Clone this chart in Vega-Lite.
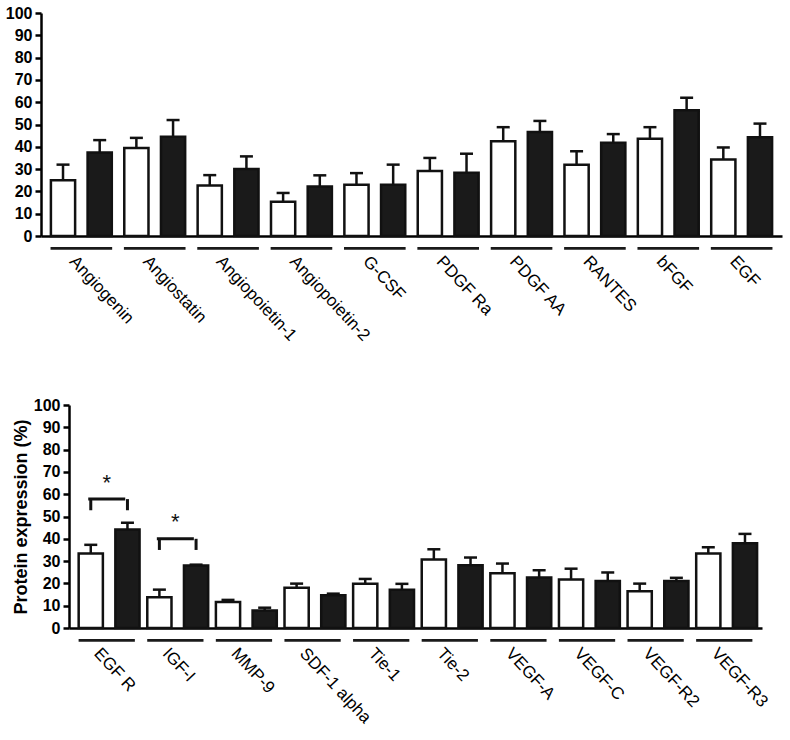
{
  "$schema": "https://vega.github.io/schema/vega-lite/v6.json",
  "background": "white",
  "padding": {"left": 5, "top": 5, "right": 5, "bottom": 5},
  "config": {
    "view": {"stroke": null},
    "font": "Liberation Sans",
    "axis": {
      "labelFont": "Liberation Sans",
      "titleFont": "Liberation Sans",
      "labelColor": "black",
      "titleColor": "black",
      "domainColor": "black",
      "tickColor": "black",
      "grid": false,
      "labelOverlap": false
    }
  },
  "datasets": {
    "top": [
      {"group": "Angiogenin", "series": "A", "value": 25, "upper": 32},
      {"group": "Angiogenin", "series": "B", "value": 37.5, "upper": 43},
      {"group": "Angiostatin", "series": "A", "value": 39.5, "upper": 44},
      {"group": "Angiostatin", "series": "B", "value": 44.5, "upper": 52},
      {"group": "Angiopoietin-1", "series": "A", "value": 22.7, "upper": 27.3},
      {"group": "Angiopoietin-1", "series": "B", "value": 30, "upper": 35.7},
      {"group": "Angiopoietin-2", "series": "A", "value": 15.4, "upper": 19.3},
      {"group": "Angiopoietin-2", "series": "B", "value": 22.2, "upper": 27.2},
      {"group": "G-CSF", "series": "A", "value": 23, "upper": 28.2},
      {"group": "G-CSF", "series": "B", "value": 23, "upper": 32},
      {"group": "PDGF Ra", "series": "A", "value": 29.1, "upper": 35},
      {"group": "PDGF Ra", "series": "B", "value": 28.4, "upper": 36.9},
      {"group": "PDGF AA", "series": "A", "value": 42.5, "upper": 48.8},
      {"group": "PDGF AA", "series": "B", "value": 46.6, "upper": 51.6},
      {"group": "RANTES", "series": "A", "value": 32, "upper": 38},
      {"group": "RANTES", "series": "B", "value": 41.8, "upper": 45.7},
      {"group": "bFGF", "series": "A", "value": 43.6, "upper": 48.8},
      {"group": "bFGF", "series": "B", "value": 56.4, "upper": 62},
      {"group": "EGF", "series": "A", "value": 34.3, "upper": 39.7},
      {"group": "EGF", "series": "B", "value": 44.3, "upper": 50.4}
    ],
    "bottom": [
      {"group": "EGF R", "series": "A", "value": 33.4, "upper": 37.3},
      {"group": "EGF R", "series": "B", "value": 44.2, "upper": 47.2},
      {"group": "IGF-I", "series": "A", "value": 13.8, "upper": 17.2},
      {"group": "IGF-I", "series": "B", "value": 28, "upper": 28.4},
      {"group": "MMP-9", "series": "A", "value": 11.7, "upper": 12.6},
      {"group": "MMP-9", "series": "B", "value": 7.9, "upper": 9.1},
      {"group": "SDF-1 alpha", "series": "A", "value": 18, "upper": 19.9},
      {"group": "SDF-1 alpha", "series": "B", "value": 14.7, "upper": 15.4},
      {"group": "Tie-1", "series": "A", "value": 19.8, "upper": 22},
      {"group": "Tie-1", "series": "B", "value": 17.2, "upper": 19.8},
      {"group": "Tie-2", "series": "A", "value": 30.7, "upper": 35.3},
      {"group": "Tie-2", "series": "B", "value": 28.1, "upper": 31.6},
      {"group": "VEGF-A", "series": "A", "value": 24.6, "upper": 28.9},
      {"group": "VEGF-A", "series": "B", "value": 22.6, "upper": 25.9},
      {"group": "VEGF-C", "series": "A", "value": 21.7, "upper": 26.6},
      {"group": "VEGF-C", "series": "B", "value": 21.1, "upper": 24.9},
      {"group": "VEGF-R2", "series": "A", "value": 16.5, "upper": 19.9},
      {"group": "VEGF-R2", "series": "B", "value": 21.1, "upper": 22.5},
      {"group": "VEGF-R3", "series": "A", "value": 33.4, "upper": 36.2},
      {"group": "VEGF-R3", "series": "B", "value": 38, "upper": 42.2}
    ],
    "brackets": [
      {"group": "EGF R", "series": "A", "low": 52.8, "high": 57.8, "star": 67},
      {"group": "EGF R", "series": "B", "low": 52.8, "high": 57.8, "star": 67},
      {"group": "IGF-I", "series": "A", "low": 35, "high": 40, "star": 49.5},
      {"group": "IGF-I", "series": "B", "low": 35, "high": 40, "star": 49.5}
    ]
  },
  "vconcat": [
    {
      "width": 741,
      "height": 223,
      "data": {"name": "top"},
      "encoding": {
        "x": {
          "field": "group", "type": "nominal", "sort": null,
          "scale": {"paddingInner": 0, "paddingOuter": 0.05},
          "axis": {
            "title": null, "labelAngle": 47, "labelAlign": "left", "labelBaseline": "top",
            "labelFontSize": 17, "labelPadding": 17, "labelOffset": -3, "ticks": false,
            "domainWidth": 2.5, "labelLimit": 300
          }
        },
        "y": {
          "type": "quantitative",
          "scale": {"domain": [0, 100], "nice": false},
          "axis": {
            "title": null, "values": [0, 10, 20, 30, 40, 50, 60, 70, 80, 90, 100],
            "labelFontSize": 16, "labelFontWeight": "bold", "labelPadding": 3,
            "tickSize": 6, "tickWidth": 2.5, "domainWidth": 2.5
          }
        }
      },
      "layer": [
        {
          "transform": [{"filter": "datum.series === 'A'"}],
          "mark": {"type": "bar", "color": "#1a1a1a", "width": {"band": 0.84}},
          "encoding": {"y": {"datum": -4.9}, "y2": {"datum": -6.2}}
        },
        {
          "mark": {"type": "bar", "stroke": "#111", "strokeWidth": 2.5},
          "encoding": {
            "xOffset": {"field": "series", "type": "nominal", "scale": {"paddingInner": 0.34, "paddingOuter": 0.17}},
            "y": {"field": "value", "type": "quantitative"},
            "color": {"field": "series", "type": "nominal", "scale": {"domain": ["A", "B"], "range": ["white", "#1a1a1a"]}, "legend": null}
          }
        },
        {
          "mark": {"type": "rule", "color": "#111", "strokeWidth": 2.5},
          "encoding": {
            "xOffset": {"field": "series", "type": "nominal", "scale": {"paddingInner": 0.34, "paddingOuter": 0.17}},
            "y": {"field": "value", "type": "quantitative"},
            "y2": {"field": "upper"}
          }
        },
        {
          "mark": {"type": "tick", "color": "#111", "opacity": 1, "orient": "horizontal", "size": 13, "thickness": 2.5},
          "encoding": {
            "xOffset": {"field": "series", "type": "nominal", "scale": {"paddingInner": 0.34, "paddingOuter": 0.17}},
            "y": {"field": "upper", "type": "quantitative"}
          }
        }
      ]
    },
    {
      "width": 721,
      "height": 223,
      "layer": [
        {
          "data": {"name": "bottom"},
          "transform": [{"filter": "datum.series === 'A'"}],
          "mark": {"type": "bar", "color": "#1a1a1a", "width": {"band": 0.82}},
          "encoding": {
            "y": {"datum": -4.9}, "y2": {"datum": -6.2}
          }
        },
        {
          "data": {"name": "bottom"},
          "mark": {"type": "bar", "stroke": "#111", "strokeWidth": 2.5},
          "encoding": {
            "xOffset": {"field": "series", "type": "nominal", "scale": {"paddingInner": 0.34, "paddingOuter": 0.17}},
            "y": {"field": "value", "type": "quantitative"},
            "color": {"field": "series", "type": "nominal", "scale": {"domain": ["A", "B"], "range": ["white", "#1a1a1a"]}, "legend": null}
          }
        },
        {
          "data": {"name": "bottom"},
          "mark": {"type": "rule", "color": "#111", "strokeWidth": 2.5},
          "encoding": {
            "xOffset": {"field": "series", "type": "nominal", "scale": {"paddingInner": 0.34, "paddingOuter": 0.17}},
            "y": {"field": "value", "type": "quantitative"},
            "y2": {"field": "upper"}
          }
        },
        {
          "data": {"name": "bottom"},
          "mark": {"type": "tick", "color": "#111", "opacity": 1, "orient": "horizontal", "size": 13, "thickness": 2.5},
          "encoding": {
            "xOffset": {"field": "series", "type": "nominal", "scale": {"paddingInner": 0.34, "paddingOuter": 0.17}},
            "y": {"field": "upper", "type": "quantitative"}
          }
        },
        {
          "data": {"name": "brackets"},
          "mark": {"type": "rule", "color": "#111", "strokeWidth": 3},
          "encoding": {
            "xOffset": {"field": "series", "type": "nominal", "scale": {"paddingInner": 0.34, "paddingOuter": 0.17}},
            "y": {"field": "low", "type": "quantitative"},
            "y2": {"field": "high"}
          }
        },
        {
          "data": {"name": "brackets"},
          "transform": [{"filter": "datum.series === 'A'"}],
          "mark": {"type": "tick", "color": "#111", "opacity": 1, "orient": "horizontal", "size": 37, "thickness": 3},
          "encoding": {
            "y": {"field": "high", "type": "quantitative"}
          }
        },
        {
          "data": {"name": "brackets"},
          "transform": [{"filter": "datum.series === 'A'"}],
          "mark": {"type": "text", "text": "*", "fontSize": 22, "font": "Liberation Sans", "color": "#111", "baseline": "middle", "dy": 4},
          "encoding": {
            "y": {"field": "star", "type": "quantitative"}
          }
        }
      ],
      "encoding": {
        "x": {
          "field": "group", "type": "nominal", "sort": null,
          "scale": {"range": [28, 721], "paddingInner": 0, "paddingOuter": 0.05},
          "axis": {
            "title": null, "labelAngle": 47, "labelAlign": "left", "labelBaseline": "top",
            "labelFontSize": 17, "labelPadding": 17, "labelOffset": -4, "ticks": false,
            "domainWidth": 2.5, "labelLimit": 300
          }
        },
        "y": {
          "type": "quantitative",
          "scale": {"domain": [0, 100], "nice": false},
          "axis": {
            "title": "Protein expression (%)", "titleFontSize": 18, "titleFontWeight": "bold", "titlePadding": 3,
            "values": [0, 10, 20, 30, 40, 50, 60, 70, 80, 90, 100], "offset": -28,
            "labelFontSize": 16, "labelFontWeight": "bold", "labelPadding": 3,
            "tickSize": 6, "tickWidth": 2.5, "domainWidth": 2.5
          }
        }
      }
    }
  ],
  "spacing": 53
}
